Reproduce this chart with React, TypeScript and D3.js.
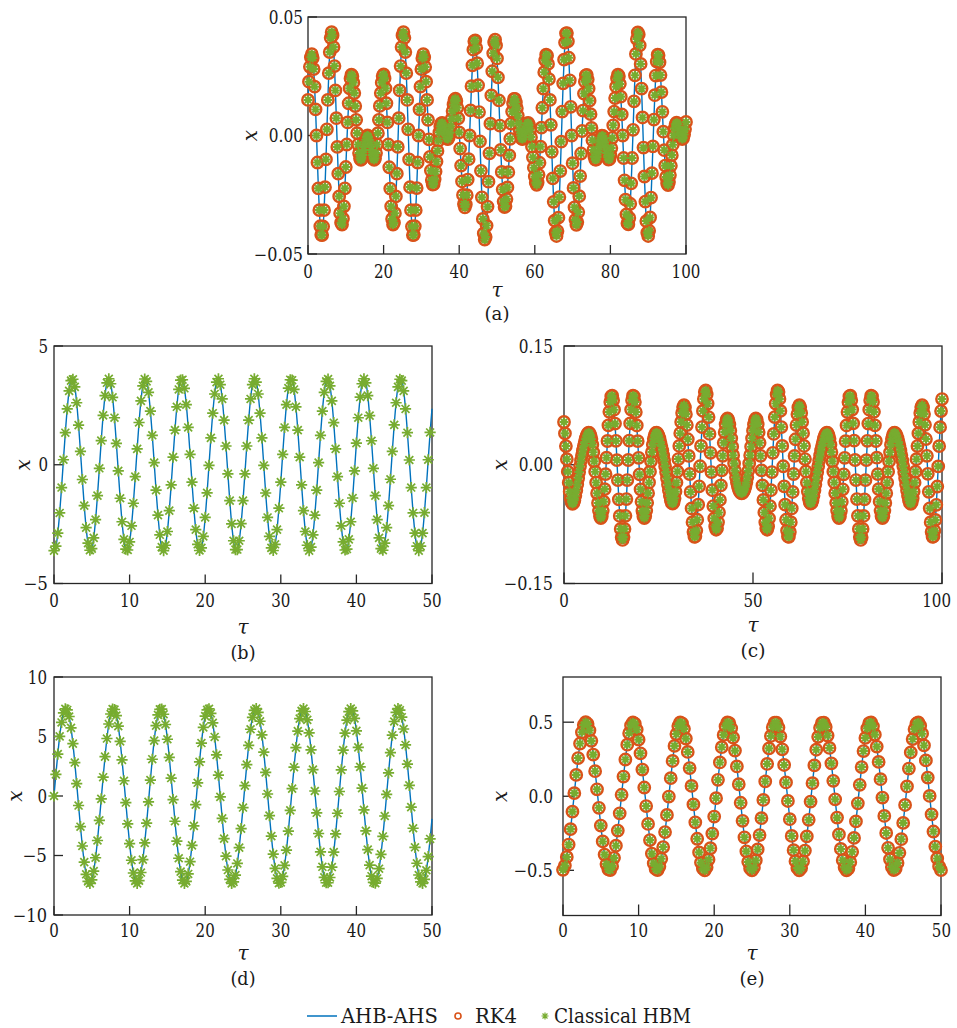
import React from 'react';
import * as d3 from 'd3';

// Output interval of the three solvers, in units of τ
const SAMPLE_STEP = 0.25;

// (a) displacement history, τ = 0 … 100
const xA = [
  .0150, .0227, .0290, .0330, .0343, .0327, .0280, .0206, .0110, .0000, -.0114, -.0223, -.0315, -.0383, -.0419, -.0420, -.0384, -.0315, -.0218, -.0101,
  .0026, .0150, .0263, .0352, .0412, .0436, .0422, .0373, .0293, .0190, .0073, -.0048, -.0161, -.0257, -.0328, -.0368, -.0376, -.0351, -.0299, -.0223,
  -.0133, -.0038, .0055, .0136, .0199, .0240, .0257, .0250, .0223, .0179, .0124, .0066, .0010, -.0038, -.0074, -.0096, -.0103, -.0098, -.0082, -.0061,
  -.0038, -.0018, -.0005, .0000, -.0005, -.0019, -.0039, -.0061, -.0083, -.0098, -.0103, -.0096, -.0074, -.0038, .0010, .0066, .0125, .0179, .0223, .0251,
  .0258, .0241, .0199, .0136, .0055, -.0038, -.0134, -.0224, -.0299, -.0352, -.0376, -.0368, -.0328, -.0257, -.0161, -.0048, .0073, .0190, .0293, .0373,
  .0422, .0436, .0412, .0352, .0263, .0150, .0026, -.0101, -.0218, -.0315, -.0384, -.0420, -.0419, -.0383, -.0315, -.0222, -.0114, .0000, .0110, .0206,
  .0280, .0326, .0343, .0330, .0289, .0227, .0150, .0066, -.0016, -.0090, -.0148, -.0188, -.0207, -.0205, -.0185, -.0152, -.0110, -.0065, -.0022, .0013,
  .0038, .0051, .0053, .0045, .0030, .0013, -.0003, -.0013, -.0015, -.0006, .0012, .0039, .0070, .0103, .0131, .0150, .0156, .0146, .0117, .0072,
  .0013, -.0055, -.0127, -.0194, -.0251, -.0289, -.0303, -.0291, -.0252, -.0186, -.0100, .0000, .0106, .0208, .0296, .0362, .0398, .0401, .0370, .0305,
  .0212, .0099, -.0025, -.0149, -.0261, -.0352, -.0413, -.0439, -.0428, -.0380, -.0300, -.0195, -.0075, .0050, .0169, .0271, .0347, .0393, .0404, .0380,
  .0325, .0245, .0148, .0042, -.0061, -.0154, -.0228, -.0279, -.0302, -.0298, -.0268, -.0219, -.0155, -.0084, -.0014, .0050, .0101, .0136, .0154, .0154,
  .0140, .0115, .0084, .0051, .0022, .0000, -.0013, -.0015, -.0008, .0006, .0023, .0039, .0051, .0053, .0045, .0024, -.0007, -.0047, -.0092, -.0136,
  -.0173, -.0199, -.0208, -.0198, -.0166, -.0115, -.0047, .0033, .0117, .0198, .0267, .0317, .0341, .0337, .0302, .0238, .0150, .0045, -.0069, -.0181,
  -.0280, -.0359, -.0409, -.0424, -.0403, -.0347, -.0260, -.0150, -.0026, .0101, .0220, .0320, .0392, .0431, .0432, .0397, .0328, .0233, .0121, .0000,
  -.0117, -.0221, -.0303, -.0356, -.0377, -.0365, -.0323, -.0256, -.0171, -.0076, .0019, .0105, .0177, .0227, .0254, .0256, .0236, .0198, .0147, .0090,
  .0032, -.0020, -.0061, -.0089, -.0102, -.0102, -.0090, -.0070, -.0048, -.0026, -.0009, -.0001, -.0002, -.0012, -.0029, -.0051, -.0074, -.0092, -.0102, -.0100,
  -.0084, -.0053, -.0010, .0043, .0101, .0158, .0206, .0241, .0257, .0250, .0218, .0164, .0089, .0000, -.0095, -.0189, -.0271, -.0333, -.0370, -.0375,
  -.0348, -.0288, -.0202, -.0095, .0024, .0144, .0254, .0344, .0407, .0435, .0426, .0380, .0302, .0198, .0076, -.0051, -.0173, -.0279, -.0361, -.0410,
  -.0424, -.0402, -.0346, -.0262, -.0159, -.0046, .0067, .0170, .0253, .0312, .0341, .0339, .0309, .0255, .0183, .0100, .0016, -.0062, -.0127, -.0175,
  -.0202, -.0209, -.0196, -.0167, -.0128, -.0083, -.0039, .0000, .0030, .0048, .0054, .0050, .0037, .0021, .0004, -.0009, -.0015, -.0011, .0004, .0027, .0057,
];

// (b) displacement history, τ = 0 … 50
const xB = [
  -3.62, -3.43, -2.88, -2.03, -0.96, 0.21, 1.35, 2.35, 3.11, 3.54, 3.60, 3.28, 2.61, 1.67, 0.56, -0.62, -1.72, -2.65, -3.30, -3.60,
  -3.53, -3.08, -2.31, -1.30, -0.15, 1.02, 2.08, 2.91, 3.45, 3.62, 3.41, 2.84, 1.98, 0.90, -0.26, -1.41, -2.40, -3.14, -3.55, -3.59,
  -3.25, -2.57, -1.62, -0.50, 0.67, 1.78, 2.69, 3.32, 3.61, 3.51, 3.05, 2.26, 1.24, 0.09, -1.07, -2.12, -2.95, -3.47, -3.62, -3.39,
  -2.81, -1.93, -0.85, 0.32, 1.46, 2.44, 3.17, 3.56, 3.58, 3.22, 2.53, 1.57, 0.44, -0.73, -1.83, -2.73, -3.35, -3.61, -3.50, -3.02,
  -2.22, -1.18, -0.03, 1.13, 2.17, 2.98, 3.48, 3.62, 3.37, 2.77, 1.88, 0.79, -0.38, -1.51, -2.49, -3.20, -3.57, -3.57, -3.20, -2.48,
  -1.51, -0.38, 0.79, 1.88, 2.77, 3.37, 3.62, 3.48, 2.98, 2.17, 1.13, -0.03, -1.19, -2.22, -3.02, -3.50, -3.61, -3.35, -2.73, -1.83,
  -0.73, 0.44, 1.57, 2.53, 3.23, 3.58, 3.56, 3.17, 2.44, 1.46, 0.32, -0.85, -1.93, -2.81, -3.39, -3.62, -3.47, -2.95, -2.12, -1.07,
  0.09, 1.24, 2.26, 3.05, 3.51, 3.61, 3.32, 2.69, 1.77, 0.67, -0.50, -1.62, -2.57, -3.25, -3.59, -3.55, -3.14, -2.40, -1.40, -0.26,
  0.91, 1.98, 2.85, 3.41, 3.62, 3.45, 2.91, 2.07, 1.01, -0.15, -1.30, -2.31, -3.08, -3.53, -3.60, -3.30, -2.65, -1.72, -0.61, 0.56,
  1.68, 2.61, 3.28, 3.60, 3.54, 3.11, 2.35, 1.35, 0.20, -0.96, -2.03, -2.88, -3.43, -3.62, -3.43, -2.88, -2.02, -0.96, 0.21, 1.36, 2.36,
];

// (c) displacement history, τ = 0 … 100
const xC = [
  .0540, .0396, .0236, .0070, -.0087, -.0226, -.0341, -.0424, -.0474, -.0493, -.0482, -.0447, -.0392, -.0325, -.0249, -.0171, -.0092, -.0017, .0054, .0120,
  .0180, .0237, .0288, .0332, .0368, .0394, .0406, .0401, .0375, .0326, .0253, .0157, .0042, -.0088, -.0225, -.0360, -.0483, -.0582, -.0648, -.0674,
  -.0652, -.0582, -.0466, -.0308, -.0119, .0089, .0300, .0498, .0668, .0793, .0864, .0872, .0815, .0695, .0520, .0302, .0058, -.0195, -.0437, -.0647,
  -.0811, -.0915, -.0950, -.0914, -.0810, -.0645, -.0434, -.0193, .0060, .0305, .0522, .0697, .0816, .0873, .0864, .0792, .0666, .0496, .0298, .0087,
  -.0121, -.0310, -.0468, -.0584, -.0653, -.0674, -.0648, -.0581, -.0481, -.0359, -.0224, -.0087, .0043, .0159, .0254, .0327, .0375, .0401, .0406, .0394,
  .0368, .0332, .0287, .0236, .0180, .0118, .0053, -.0018, -.0093, -.0171, -.0250, -.0325, -.0393, -.0447, -.0482, -.0492, -.0474, -.0423, -.0339, -.0225,
  -.0085, .0072, .0237, .0398, .0541, .0655, .0729, .0753, .0724, .0639, .0502, .0322, .0111, -.0117, -.0344, -.0552, -.0726, -.0849, -.0911, -.0906,
  -.0832, -.0695, -.0504, -.0273, -.0019, .0237, .0476, .0680, .0831, .0920, .0940, .0889, .0773, .0602, .0389, .0151, -.0092, -.0322, -.0522, -.0678,
  -.0780, -.0821, -.0802, -.0727, -.0603, -.0444, -.0261, -.0071, .0113, .0277, .0412, .0511, .0568, .0585, .0564, .0510, .0431, .0334, .0228, .0120,
  .0017, -.0076, -.0157, -.0224, -.0276, -.0314, -.0340, -.0355, -.0360,
  -.0355, -.0340, -.0314, -.0276, -.0224, -.0157, -.0076, .0017, .0120, .0228, .0334, .0431, .0510, .0564, .0585, .0568, .0511, .0412, .0277, .0113,
  -.0071, -.0261, -.0444, -.0603, -.0727, -.0802, -.0821, -.0780, -.0678, -.0522, -.0322, -.0092, .0151, .0389, .0602, .0773, .0889, .0940, .0920, .0831,
  .0680, .0476, .0237, -.0019, -.0273, -.0504, -.0695, -.0832, -.0906, -.0911, -.0849, -.0726, -.0552, -.0344, -.0117, .0111, .0322, .0502, .0639, .0724,
  .0753, .0729, .0655, .0541, .0398, .0237, .0072, -.0085, -.0225, -.0339, -.0423, -.0474, -.0492, -.0482, -.0447, -.0393, -.0325, -.0250, -.0171, -.0093,
  -.0018, .0053, .0118, .0180, .0236, .0287, .0332, .0368, .0394, .0406, .0401, .0375, .0327, .0254, .0159, .0043, -.0087, -.0224, -.0359, -.0481,
  -.0581, -.0648, -.0674, -.0653, -.0584, -.0468, -.0310, -.0121, .0087, .0298, .0496, .0666, .0792, .0864, .0873, .0816, .0697, .0522, .0305, .0060,
  -.0193, -.0434, -.0645, -.0810, -.0914, -.0950, -.0915, -.0811, -.0647, -.0437, -.0195, .0058, .0302, .0520, .0695, .0815, .0872, .0864, .0793, .0668,
  .0498, .0300, .0089, -.0119, -.0308, -.0466, -.0582, -.0652, -.0674, -.0648, -.0582, -.0483, -.0360, -.0225, -.0088, .0042, .0157, .0253, .0326, .0375,
  .0401, .0406, .0394, .0368, .0332, .0288, .0237, .0180, .0120, .0054, -.0017, -.0092, -.0171, -.0249, -.0325, -.0392, -.0447, -.0482, -.0493, -.0474,
  -.0424, -.0341, -.0226, -.0087, .0070, .0236, .0396, .0540,
  .0655, .0729, .0754, .0724, .0640, .0504, .0325, .0113, -.0115, -.0342, -.0551, -.0725, -.0848, -.0911, -.0906, -.0834, -.0697, -.0506, -.0275, -.0021,
  .0235, .0474, .0678, .0830,
];

// (d) displacement history, τ = 0 … 50
const xD = [
  0, 1.82, 3.52, 5.01, 6.18, 6.98, 7.33, 7.23, 6.68, 5.72, 4.40, 2.81, 1.04, -0.80, -2.58, -4.20, -5.56, -6.58, -7.18, -7.34,
  -7.05, -6.31, -5.19, -3.74, -2.05, -0.24, 1.58, 3.31, 4.83, 6.05, 6.89, 7.31, 7.27, 6.76, 5.87, 4.59, 3.03, 1.28, -0.55, -2.35,
  -4.00, -5.40, -6.47, -7.13, -7.35, -7.11, -6.43, -5.35, -3.94, -2.28, -0.49, 1.34, 3.09, 4.65, 5.91, 6.81, 7.28, 7.30, 6.87, 6.01,
  4.77, 3.25, 1.51, -0.31, -2.12, -3.79, -5.23, -6.35, -7.07, -7.35, -7.17, -6.55, -5.52, -4.15, -2.51, -0.73, 1.11, 2.87, 4.45, 5.76,
  6.71, 7.24, 7.33, 6.95, 6.15, 4.96, 3.46, 1.75, -0.07, -1.88, -3.58, -5.06, -6.22, -7.00, -7.34, -7.22, -6.65, -5.67, -4.34, -2.74,
  -0.97, 0.87, 2.64, 4.26, 5.61, 6.61, 7.20, 7.34, 7.03, 6.28, 5.14, 3.68, 1.99, 0.17, -1.65, -3.37, -4.88, -6.09, -6.92, -7.32,
  -7.26, -6.75, -5.83, -4.54, -2.96, -1.21, 0.62, 2.42, 4.06, 5.45, 6.50, 7.15, 7.35, 7.10, 6.40, 5.31, 3.88, 2.22, 0.42, -1.41,
  -3.15, -4.70, -5.95, -6.83, -7.29, -7.29, -6.85, -5.97, -4.72, -3.18, -1.45, 0.38, 2.19, 3.85, 5.28, 6.38, 7.09, 7.35, 7.15, 6.52,
  5.47, 4.09, 2.45, 0.66, -1.17, -2.93, -4.51, -5.81, -6.74, -7.26, -7.32, -6.93, -6.11, -4.91, -3.40, -1.68, 0.14, 1.95, 3.64, 5.11,
  6.26, 7.02, 7.34, 7.21, 6.62, 5.63, 4.29, 2.68, 0.90, -0.93, -2.71, -4.31, -5.65, -6.64, -7.21, -7.34, -7.01, -6.24, -5.09, -3.61, -1.92,
];

// (e) displacement history, τ = 0 … 50
const xE = [
  -.497, -.468, -.410, -.326, -.222, -.104, .021, .144, .258, .356, .432, .481, .500, .488, .445, .374, .281, .169, .047, -.078,
  -.198, -.305, -.394, -.458, -.493, -.498, -.472, -.416, -.334, -.232, -.115, .010, .133, .248, .348, .426, .478, .499, .490, .450,
  .382, .290, .180, .059, -.066, -.187, -.296, -.387, -.453, -.491, -.499, -.475, -.422, -.343, -.242, -.126, -.002, .122, .238, .340,
  .420, .474, .499, .492, .455, .389, .299, .190, .070, -.055, -.176, -.287, -.379, -.448, -.489, -.500, -.479, -.428, -.351, -.252,
  -.137, -.013, .111, .228, .331, .414, .471, .498, .494, .459, .396, .308, .201, .081, -.044, -.166, -.277, -.372, -.443, -.487,
  -.500, -.482, -.433, -.359, -.262, -.148, -.025, .100, .218, .323, .407, .466, .497, .496, .464, .403, .317, .211, .093, -.032,
  -.155, -.268, -.364, -.438, -.484, -.500, -.485, -.440, -.367, -.271, -.159, -.036, .088, .208, .314, .401, .462, .495, .497, .468,
  .410, .326, .222, .104, -.021, -.144, -.258, -.356, -.432, -.481, -.500, -.488, -.445, -.375, -.281, -.170, -.048, .077, .197, .305,
  .394, .458, .493, .498, .472, .416, .335, .232, .115, -.009, -.133, -.248, -.348, -.426, -.478, -.499, -.490, -.450, -.382, -.290,
  -.180, -.059, .066, .187, .296, .386, .453, .491, .499, .476, .422, .343, .242, .126, .002, -.122, -.238, -.340, -.420, -.474, -.499,
];

// Axis ticks
const tauTicksA = [0, 20, 40, 60, 80, 100];
const xTicksA = [-0.05, 0, 0.05];
const tauTicksB = [0, 10, 20, 30, 40, 50];
const xTicksB = [-5, 0, 5];
const tauTicksC = [0, 50, 100];
const xTicksC = [-0.15, 0, 0.15];
const tauTicksD = [0, 10, 20, 30, 40, 50];
const xTicksD = [-10, -5, 0, 5, 10];
const tauTicksE = [0, 10, 20, 30, 40, 50];
const xTicksE = [-0.5, 0, 0.5];

const seriesNames = ['AHB-AHS', 'RK4', 'Classical HBM'];

const COLOR_LINE = '#0072BD';
const COLOR_RK4 = '#D95319';
const COLOR_HBM = '#77AC30';
const COLOR_AXIS = '#262626';
const FONT = '"DejaVu Serif", "Liberation Serif", serif';
const CANVAS_W = 957;
const CANVAS_H = 1028;

// Advance widths (px) of a Computer-Modern-like numeral set at the label size
function numeralWidth(s: string): number {
  let w = 0;
  for (const ch of s) {
    if (ch === '.') w += 5.4;
    else if (ch === '\u2212' || ch === '-') w += 15;
    else w += 9.6;
  }
  return w;
}

interface PanelSpec {
  caption: string;
  values: number[];
  tauDomain: [number, number];
  xDomain: [number, number];
  tauTicks: number[];
  xTicks: number[];
  xFormat: string;
  left: number;
  right: number;
  top: number;
  bottom: number;
  tickLen: number;
  labelGap: number;
  tickLabelY: number;
  tauLabelY: number;
  captionY: number;
  xLabelX: number;
  showRK4: boolean;
  markerEnd: number;
  starR: number;
  starW: number;
}

const panels: PanelSpec[] = [
  {
    caption: '(a)', values: xA, tauDomain: [0, 100], xDomain: [-0.05, 0.05],
    tauTicks: tauTicksA, xTicks: xTicksA, xFormat: '.2f',
    left: 308, right: 686, top: 17, bottom: 254, tickLen: 9, labelGap: 5,
    tickLabelY: 271, tauLabelY: 290, captionY: 313, xLabelX: 250,
    showRK4: true, markerEnd: 100, starR: 4.4, starW: 2.1,
  },
  {
    caption: '(b)', values: xB, tauDomain: [0, 50], xDomain: [-5, 5],
    tauTicks: tauTicksB, xTicks: xTicksB, xFormat: 'd',
    left: 54, right: 432, top: 346, bottom: 583.5, tickLen: 9, labelGap: 6,
    tickLabelY: 600, tauLabelY: 627, captionY: 652, xLabelX: 23,
    showRK4: false, markerEnd: 49.75, starR: 5.6, starW: 1.7,
  },
  {
    caption: '(c)', values: xC, tauDomain: [0, 100], xDomain: [-0.15, 0.15],
    tauTicks: tauTicksC, xTicks: xTicksC, xFormat: '.2f',
    left: 564, right: 942, top: 346, bottom: 583.5, tickLen: 11, labelGap: 11,
    tickLabelY: 600, tauLabelY: 625, captionY: 650, xLabelX: 500,
    showRK4: true, markerEnd: 100, starR: 4.4, starW: 2.1,
  },
  {
    caption: '(d)', values: xD, tauDomain: [0, 50], xDomain: [-10, 10],
    tauTicks: tauTicksD, xTicks: xTicksD, xFormat: 'd',
    left: 54, right: 432, top: 677, bottom: 915, tickLen: 9, labelGap: 7,
    tickLabelY: 930, tauLabelY: 953, captionY: 978, xLabelX: 15,
    showRK4: false, markerEnd: 49.75, starR: 5.6, starW: 1.7,
  },
  {
    caption: '(e)', values: xE, tauDomain: [0, 50], xDomain: [-0.805, 0.805],
    tauTicks: tauTicksE, xTicks: xTicksE, xFormat: '.1f',
    left: 563, right: 941, top: 677, bottom: 915.5, tickLen: 11, labelGap: 10,
    tickLabelY: 930, tauLabelY: 953, captionY: 978, xLabelX: 500,
    showRK4: true, markerEnd: 50, starR: 4.4, starW: 2.1,
  },
];

// MATLAB-style asterisk: a plus overlaid with a cross
function asteriskPath(r: number): string {
  const a = r * Math.SQRT1_2;
  return `M${-r},0L${r},0M0,${-r}L0,${r}M${-a},${-a}L${a},${a}M${-a},${a}L${a},${-a}`;
}

const textStyle: React.CSSProperties = { fontFamily: FONT };

function Panel({ p }: { p: PanelSpec }) {
  const tauScale = d3.scaleLinear().domain(p.tauDomain).range([p.left, p.right]);
  const xScale = d3.scaleLinear().domain(p.xDomain).range([p.bottom, p.top]);
  const fmtX = d3.format(p.xFormat);
  const fmtTau = d3.format('d');

  const pts: [number, number][] = p.values.map((v, i) => [i * SAMPLE_STEP, v]);
  const lineGen = d3
    .line<[number, number]>()
    .x((d) => tauScale(d[0]))
    .y((d) => xScale(d[1]))
    .curve(d3.curveCatmullRom.alpha(0.5));
  const markerPts = pts.filter((d) => d[0] <= p.markerEnd + 1e-9);
  const star = asteriskPath(p.starR);
  const midTau = (p.left + p.right) / 2;
  const midX = (p.top + p.bottom) / 2;

  return (
    <g>
      <rect
        x={p.left}
        y={p.top}
        width={p.right - p.left}
        height={p.bottom - p.top}
        fill="none"
        stroke={COLOR_AXIS}
        strokeWidth={1.3}
      />
      {p.tauTicks.map((t) => (
        <line
          key={`tt${t}`}
          x1={tauScale(t)}
          x2={tauScale(t)}
          y1={p.bottom}
          y2={p.bottom - p.tickLen}
          stroke={COLOR_AXIS}
          strokeWidth={1.3}
        />
      ))}
      {p.xTicks.map((t) => (
        <line
          key={`xt${t}`}
          x1={p.left}
          x2={p.left + p.tickLen}
          y1={xScale(t)}
          y2={xScale(t)}
          stroke={COLOR_AXIS}
          strokeWidth={1.3}
        />
      ))}

      <path d={lineGen(pts) || ''} fill="none" stroke={COLOR_LINE} strokeWidth={1.4} />
      {p.showRK4 &&
        markerPts.map((d, i) => (
          <circle
            key={`rk${i}`}
            cx={tauScale(d[0])}
            cy={xScale(d[1])}
            r={5.7}
            fill="none"
            stroke={COLOR_RK4}
            strokeWidth={2.4}
          />
        ))}
      {markerPts.map((d, i) => (
        <path
          key={`hb${i}`}
          d={star}
          transform={`translate(${tauScale(d[0])},${xScale(d[1])})`}
          fill="none"
          stroke={COLOR_HBM}
          strokeWidth={p.starW}
        />
      ))}

      <g style={textStyle} fill="#1a1a1a">
        {p.tauTicks.map((t) => {
          const s = fmtTau(t);
          const w = numeralWidth(s);
          const cx = tauScale(t);
          // keep the last label inside the canvas
          const atEdge = cx + w / 2 > CANVAS_W - 8;
          return (
            <text
              key={`tl${t}`}
              x={atEdge ? CANVAS_W - 6 : cx}
              y={p.tickLabelY}
              fontSize={18}
              textAnchor={atEdge ? 'end' : 'middle'}
              dominantBaseline="central"
              textLength={w}
              lengthAdjust="spacingAndGlyphs"
            >
              {s}
            </text>
          );
        })}
        {p.xTicks.map((t) => {
          const s = fmtX(t);
          return (
            <text
              key={`xl${t}`}
              x={p.left - p.labelGap}
              y={xScale(t)}
              fontSize={18}
              textAnchor="end"
              dominantBaseline="central"
              textLength={numeralWidth(s)}
              lengthAdjust="spacingAndGlyphs"
            >
              {s}
            </text>
          );
        })}
        <text
          x={midTau}
          y={p.tauLabelY}
          fontSize={20}
          textAnchor="middle"
          dominantBaseline="central"
          fontStyle="italic"
        >
          τ
        </text>
        <text
          x={midTau}
          y={p.captionY}
          fontSize={19}
          textAnchor="middle"
          dominantBaseline="central"
          textLength={25}
          lengthAdjust="spacingAndGlyphs"
        >
          {p.caption}
        </text>
        <text
          transform={`translate(${p.xLabelX},${midX}) rotate(-90)`}
          fontSize={20}
          textAnchor="middle"
          dominantBaseline="central"
          fontStyle="italic"
        >
          x
        </text>
      </g>
    </g>
  );
}

function Legend() {
  const y = 1016;
  return (
    <g style={textStyle} fontSize={20} fill="#1a1a1a">
      <line x1={307} x2={337} y1={y} y2={y} stroke={COLOR_LINE} strokeWidth={1.5} />
      <text x={341} y={1023} textLength={97} lengthAdjust="spacingAndGlyphs">
        {seriesNames[0]}
      </text>
      <circle cx={458} cy={y} r={3} fill="none" stroke={COLOR_RK4} strokeWidth={1.6} />
      <text x={475} y={1023} textLength={42} lengthAdjust="spacingAndGlyphs">
        {seriesNames[1]}
      </text>
      <path
        d={asteriskPath(3.5)}
        transform={`translate(545,${y})`}
        fill="none"
        stroke={COLOR_HBM}
        strokeWidth={1.2}
      />
      <text x={554} y={1023} textLength={137} lengthAdjust="spacingAndGlyphs">
        {seriesNames[2]}
      </text>
    </g>
  );
}

export default function App() {
  return (
    <svg
      width={CANVAS_W}
      height={CANVAS_H}
      viewBox={`0 0 ${CANVAS_W} ${CANVAS_H}`}
      style={{ position: 'absolute', left: 0, top: 0, background: '#ffffff' }}
    >
      <rect x={0} y={0} width={CANVAS_W} height={CANVAS_H} fill="#ffffff" />
      {panels.map((p) => (
        <Panel key={p.caption} p={p} />
      ))}
      <Legend />
    </svg>
  );
}
